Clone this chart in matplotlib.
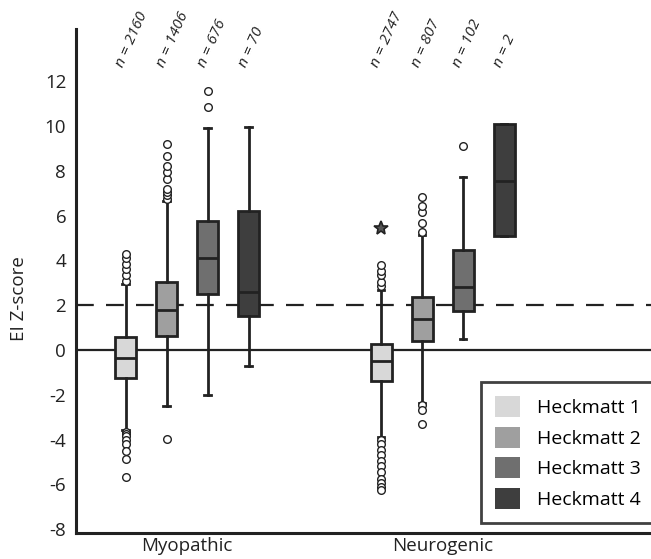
import matplotlib
matplotlib.use('Agg')
import matplotlib.pyplot as plt
from matplotlib.patches import Patch

plt.rcParams['font.family'] = ['Open Sans', 'DejaVu Sans']
plt.rcParams['axes.unicode_minus'] = False

groups = ['Myopathic', 'Neurogenic']
grades = ['Heckmatt 1', 'Heckmatt 2', 'Heckmatt 3', 'Heckmatt 4']
colors = ['#d8d8d8', '#9f9f9f', '#6f6f6f', '#3e3e3e']

#样本数
n_myo = [2160, 1406, 676, 70]
n_neu = [2747, 807, 102, 2]

#箱线图统计量 (Myopathic)
myo_q1 = [-1.25, 0.63, 2.50, 1.53]
myo_med = [-0.36, 1.79, 4.13, 2.60]
myo_q3 = [0.56, 3.05, 5.77, 6.22]
myo_lo = [-3.55, -2.50, -2.00, -0.71]
myo_hi = [2.95, 6.65, 9.90, 9.94]
myo_out = [
    [-3.65, -3.75, -3.85, -4.0, -4.2, -4.5, -4.85, -5.65, 3.1, 3.35, 3.6, 3.85, 4.1, 4.3],
    [-3.97, 6.75, 6.9, 7.05, 7.2, 7.65, 7.95, 8.2, 8.65, 9.2],
    [10.85, 11.55],
    [],
]

#箱线图统计量 (Neurogenic)
neu_q1 = [-1.40, 0.42, 1.76, 5.09]
neu_med = [-0.50, 1.38, 2.83, 7.56]
neu_q3 = [0.27, 2.38, 4.46, 10.09]
neu_lo = [-3.90, -2.35, 0.49, 5.09]
neu_hi = [2.70, 5.13, 7.74, 10.09]
neu_out = [
    [-4.0, -4.2, -4.45, -4.7, -4.95, -5.2, -5.45, -5.75, -5.95, -6.1, -6.25,
     2.85, 3.05, 3.35, 3.55, 3.8],
    [-2.46, -2.68, -3.32, 5.25, 5.65, 6.17, 6.45, 6.84],
    [9.1],
    [],
]
neu_extreme = 5.43  #极端值(星号)

centers = [0.0, 6.24]
offsets = [-1.5, -0.5, 0.5, 1.5]


def make_stats(q1, med, q3, lo, hi, out):
    stats = []
    for i in range(4):
        stats.append({'q1': q1[i], 'med': med[i], 'q3': q3[i],
                      'whislo': lo[i], 'whishi': hi[i], 'fliers': out[i]})
    return stats


fig = plt.figure(figsize=(6.51, 5.59), dpi=100)
ax = fig.add_axes([0.1167, 0.0465, 0.8833, 0.9015])

ax.axhline(0, color='#222222', lw=1.6, zorder=1)
ax.axhline(2, color='#222222', lw=1.6, ls=(0, (8, 5.5)), zorder=1)

all_stats = [make_stats(myo_q1, myo_med, myo_q3, myo_lo, myo_hi, myo_out),
             make_stats(neu_q1, neu_med, neu_q3, neu_lo, neu_hi, neu_out)]
line = dict(color='#222222', linewidth=2.0)
for g, stats in enumerate(all_stats):
    pos = [centers[g] + o for o in offsets]
    bp = ax.bxp(stats, positions=pos, widths=0.52, patch_artist=True,
                capwidths=0.15, boxprops=dict(edgecolor='#222222', linewidth=2.0),
                medianprops=line, whiskerprops=line, capprops=line,
                flierprops=dict(marker='o', markerfacecolor='white', markeredgecolor='#222222',
                                markersize=5.5, markeredgewidth=1.0), zorder=3)
    for patch, c in zip(bp['boxes'], colors):
        patch.set_facecolor(c)

ax.plot([centers[1] + offsets[0]], [neu_extreme], marker='*', color='#222222',
        markersize=10, markerfacecolor='#555555', markeredgewidth=1.2, zorder=3)

#样本数标注
for g, ns in enumerate([n_myo, n_neu]):
    for i, n in enumerate(ns):
        ax.text(centers[g] + offsets[i] - 0.15, 12.65, 'n = %d' % n, rotation=66,
                rotation_mode='anchor', ha='left', va='center', fontsize=11,
                style='italic', color='#222222', clip_on=False)

ax.set_xlim(-2.71, 11.32)
ax.set_ylim(-8.17, 14.33)
ax.set_yticks(range(-8, 13, 2))
ax.set_xticks(centers)
ax.set_xticklabels(groups)
ax.tick_params(axis='both', length=0, labelsize=13.5, colors='#222222')
ax.tick_params(axis='y', pad=7)
ax.tick_params(axis='x', pad=3)
for s in ['top', 'right']:
    ax.spines[s].set_visible(False)
for s in ['left', 'bottom']:
    ax.spines[s].set_linewidth(2.2)
    ax.spines[s].set_color('#222222')

ax.set_ylabel('EI Z-score', fontsize=13.5, color='#222222')
ax.yaxis.set_label_coords(-0.083, 0.466)

handles = [Patch(facecolor=c, edgecolor='none') for c in colors]
leg = ax.legend(handles, grades, loc='upper left', bbox_to_anchor=(0.704, 0.30),
                fontsize=14, frameon=True, fancybox=False, handlelength=1.25,
                handleheight=1.25, handletextpad=0.9, labelspacing=0.5,
                borderpad=0.75, borderaxespad=0)
leg.get_frame().set_edgecolor('#111111')
leg.get_frame().set_linewidth(2.0)

plt.savefig('out.png', dpi=100)
